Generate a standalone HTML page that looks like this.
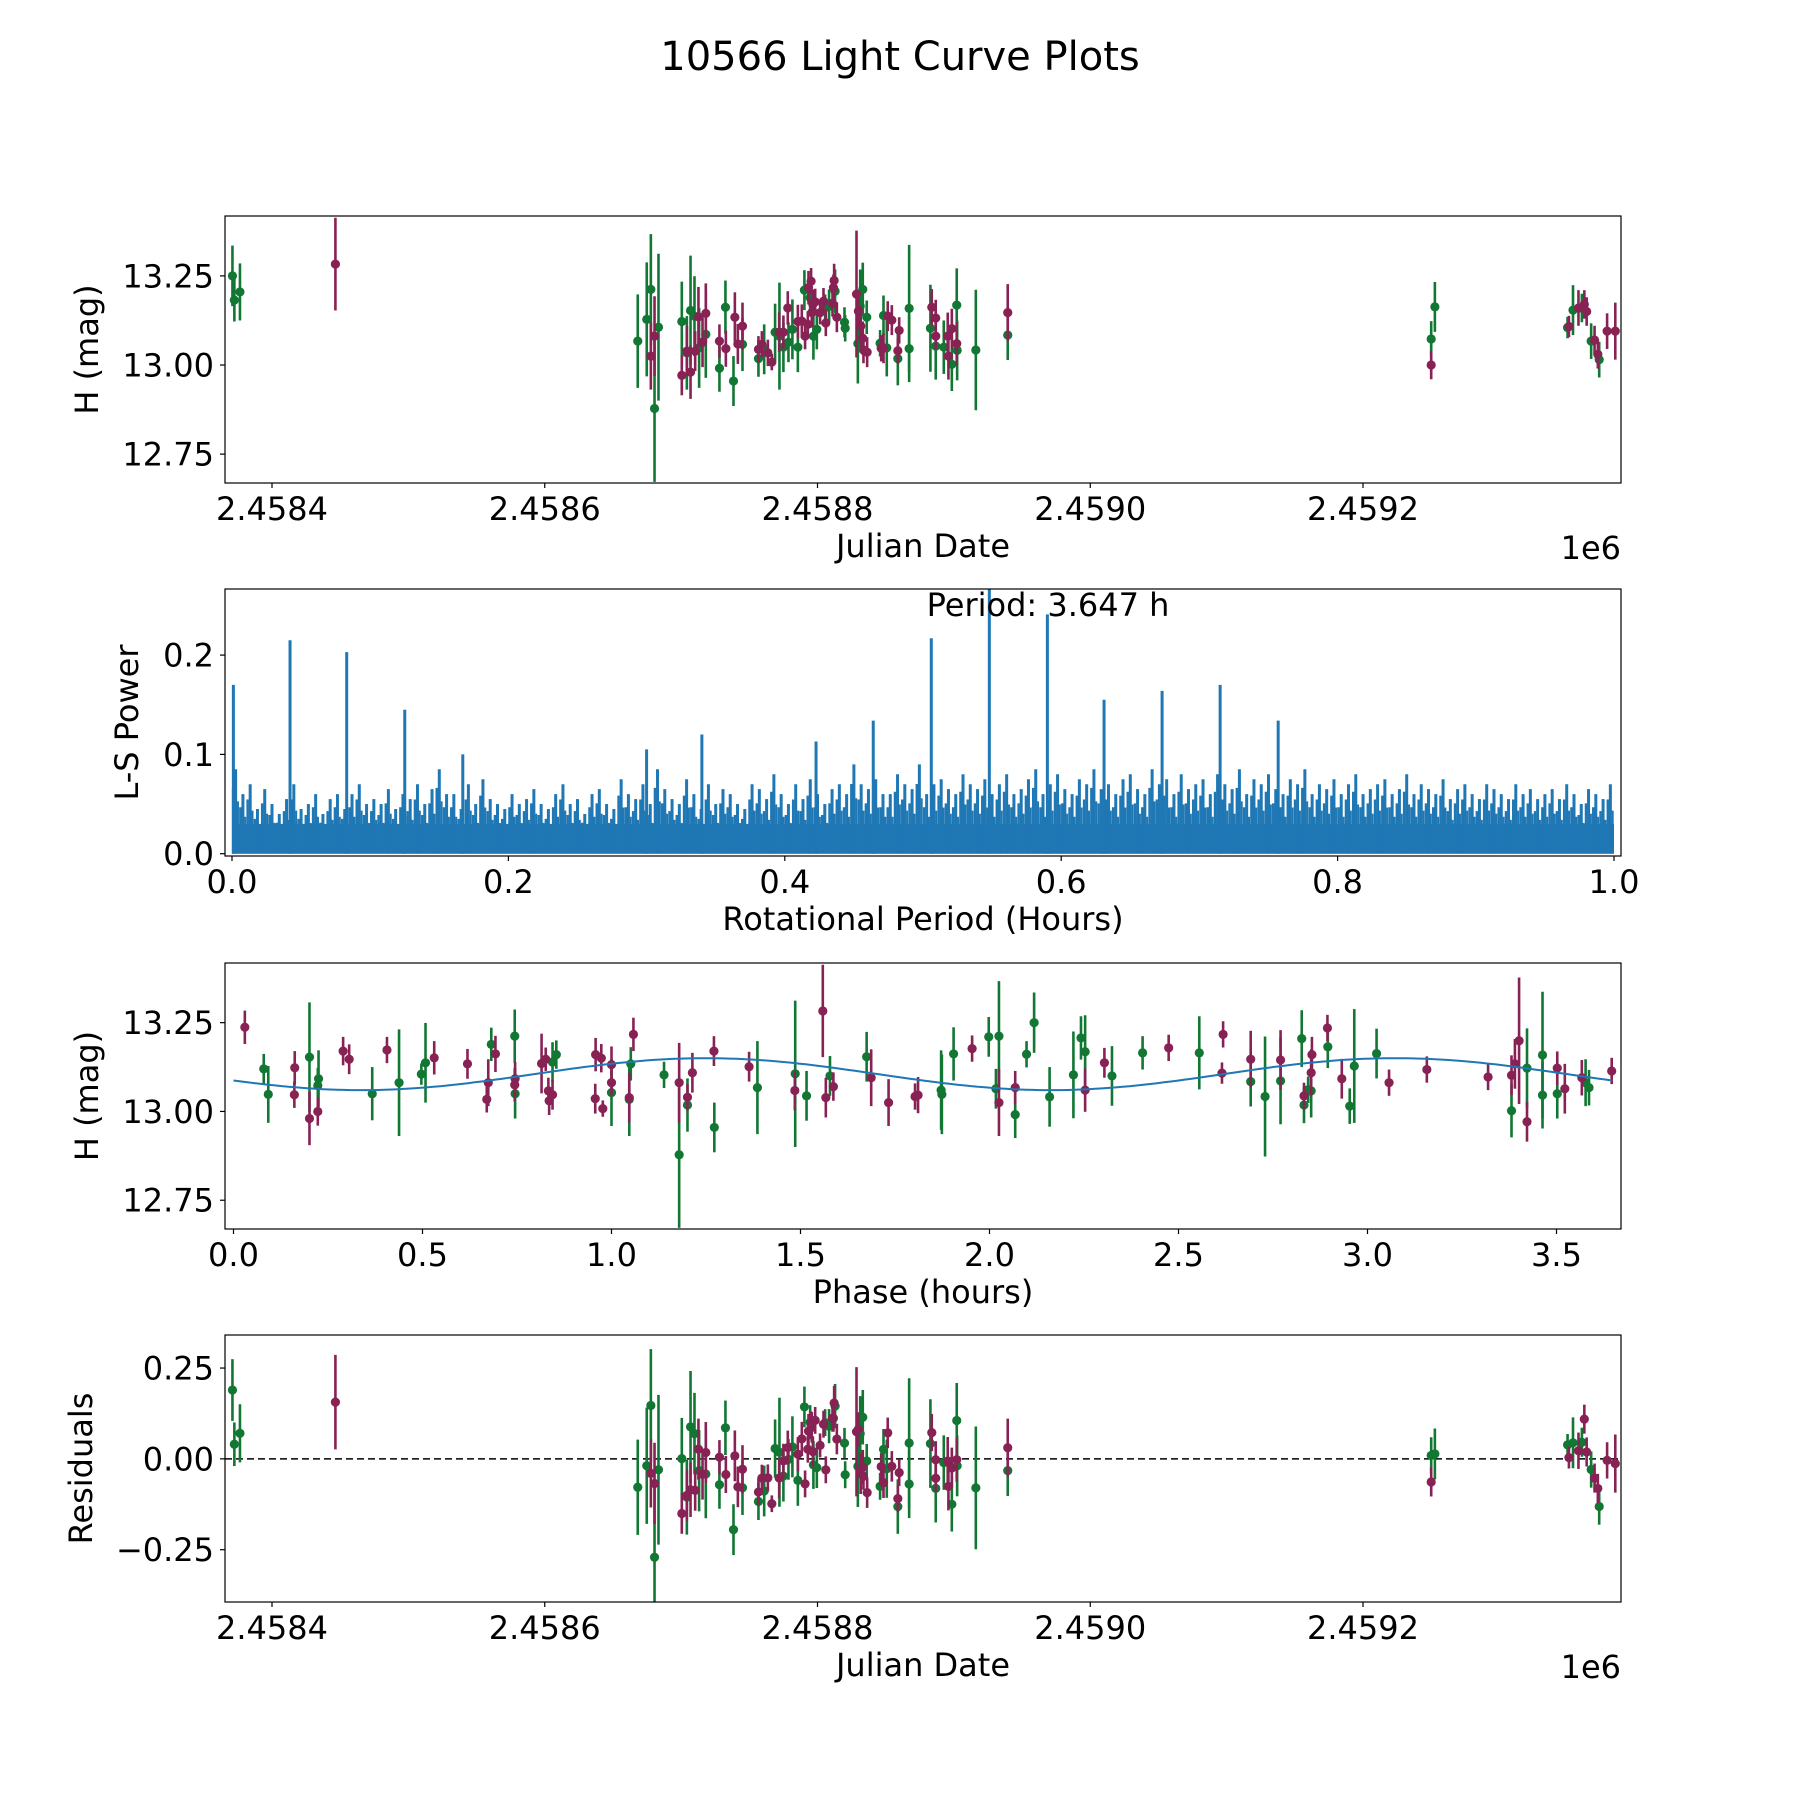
<!DOCTYPE html>
<html><head><meta charset="utf-8"><title>10566 Light Curve Plots</title>
<style>html,body{margin:0;padding:0;background:#fff}svg text{font-family:"DejaVu Sans","Liberation Sans",sans-serif;fill:#000}</style>
</head><body>
<svg id="fig" xmlns="http://www.w3.org/2000/svg" width="1800" height="1800" viewBox="0 0 1800 1800">
<rect width="1800" height="1800" fill="#fff"/>
<text x="900" y="70" font-size="40" text-anchor="middle">10566 Light Curve Plots</text>
<g id="p1"></g>
<g id="p2"></g>
<g id="p3"></g>
<g id="p4"></g>
</svg>
<script>
// ---------- data ----------
const jdGreen = [2458371,2458372.4,2458376.5,
2458668.2,2458674.8,2458677.8,2458680.5,2458683.4,2458700.5,2458704.2,2458706.9,2458709.8,2458713.2,2458718.1,2458728.1,2458732.5,2458738.4,2458745.0,2458756.7,2458760.9,2458768.9,2458772.1,2458775.0,2458778.7,2458781.6,2458785.6,2458790.4,2458794.6,2458797.0,2458799.5,2458805.6,2458808.5,2458812.9,2458819.8,2458820.3,2458829.6,2458831.3,2458833.2,2458836.1,2458845.9,2458848.4,2458850.8,2458858.9,2458867.2,2458867.2,2458882.8,2458886.7,2458892.6,2458898.5,2458902.1,2458902.4,2458916.1,2458939.5,
2459250,2459252.7,2459350,2459354,2459360.5,2459367.3,2459373.2];
const magGreen = [13.25,13.182,13.205,
13.067,13.128,13.212,12.878,13.106,13.122,13.034,13.153,13.137,13.048,13.086,12.991,13.162,12.955,13.058,13.018,13.044,13.092,13.081,13.05,13.064,13.1,13.05,13.21,13.189,13.081,13.1,13.161,13.165,13.207,13.12,13.103,13.06,13.165,13.212,13.134,13.061,13.139,13.048,13.018,13.159,13.046,13.103,13.053,13.05,13.002,13.168,13.041,13.042,13.084,
13.073,13.163,13.105,13.154,13.16,13.067,13.015];
const errGreen = [0.085,0.06,0.08,
0.131,0.16,0.155,0.206,0.206,0.112,0.103,0.154,0.112,0.112,0.122,0.066,0.075,0.07,0.075,0.051,0.07,0.08,0.15,0.07,0.056,0.084,0.07,0.056,0.047,0.066,0.056,0.037,0.047,0.061,0.042,0.037,0.112,0.103,0.075,0.047,0.037,0.056,0.08,0.075,0.178,0.094,0.122,0.094,0.075,0.075,0.103,0.084,0.169,0.07,
0.05,0.07,0.03,0.07,0.04,0.05,0.05];
const jdMaroon = [2458446.5,
2458677.8,2458680.5,2458700.5,2458704.2,2458706.9,2458710.3,2458712.7,2458715.7,2458718.1,2458728.1,2458732.8,2458739.4,2458741.6,2458745.0,2458756.7,2458759.2,2458763.6,2458766.5,2458771.9,2458775.0,2458778.2,2458785.6,2458788.5,2458790.9,2458792.9,2458793.4,2458795.3,2458795.8,2458796.6,2458798.3,2458801.9,2458804.4,2458806.1,2458811.0,2458811.7,2458812.2,2458814.2,2458828.6,2458830.0,2458831.7,2458833.2,2458833.7,2458836.4,2458846.7,2458848.4,2458851.5,2458854.5,2458858.9,2458859.9,2458883.8,2458886.7,2458886.7,2458895.5,2458896.0,2458898.5,2458902.1,2458939.5,
2459250,2459351,2459358,2459362.3,2459364,2459369.8,2459372.2,2459379,2459385];
const magMaroon = [13.283,
13.025,13.081,12.971,13.039,12.98,13.039,13.135,13.064,13.145,13.067,13.046,13.134,13.059,13.109,13.044,13.058,13.034,13.008,13.092,13.092,13.16,13.122,13.123,13.081,13.114,13.217,13.235,13.147,13.17,13.177,13.147,13.179,13.118,13.173,13.217,13.237,13.134,13.199,13.151,13.109,13.075,13.042,13.036,13.047,13.047,13.137,13.126,13.04,13.097,13.162,13.132,13.081,13.081,13.025,13.102,13.06,13.147,
13.0,13.108,13.16,13.17,13.15,13.07,13.03,13.095,13.095];
const errMaroon = [0.13,
0.094,0.112,0.056,0.07,0.075,0.056,0.084,0.07,0.084,0.047,0.051,0.07,0.056,0.066,0.037,0.037,0.037,0.023,0.056,0.047,0.047,0.047,0.047,0.037,0.037,0.047,0.037,0.042,0.042,0.037,0.033,0.037,0.037,0.037,0.037,0.047,0.042,0.178,0.047,0.056,0.047,0.037,0.042,0.037,0.042,0.042,0.042,0.037,0.037,0.051,0.051,0.037,0.066,0.066,0.056,0.061,0.08,
0.04,0.03,0.05,0.04,0.04,0.04,0.04,0.05,0.08];
const rotPeriodHours = 3.647;
const epochJD = 2458370.0;
const modelMean = 13.105;
const modelAmp = 0.045;
const modelPeakPhase = 1.25;
// periodogram
const lsNoise = [0.085,0.06,0.07,0.045,0.065,0.05,0.04,0.055,0.07,0.045,0.05,0.06,0.04,0.055,0.06,0.045,0.06,0.07,0.05,0.055,0.05,0.065,0.045,0.06,0.055,0.07,0.05,0.065,0.085,0.06,
0.06,0.045,0.07,0.05,0.075,0.055,0.05,0.045,0.06,0.05,0.055,0.065,0.05,0.045,0.06,0.07,0.05,0.055,0.04,0.06,0.065,0.05,0.045,0.075,0.06,0.055,0.07,0.05,0.085,0.065,
0.055,0.05,0.075,0.06,0.045,0.07,0.05,0.065,0.06,0.05,0.045,0.07,0.065,0.055,0.08,0.06,0.05,0.07,0.055,0.075,0.06,0.05,0.065,0.07,0.06,0.09,0.07,0.065,0.075,0.06,
0.06,0.08,0.07,0.065,0.09,0.06,0.07,0.075,0.065,0.06,0.08,0.07,0.065,0.075,0.06,0.07,0.08,0.06,0.065,0.075,0.085,0.06,0.07,0.08,0.065,0.06,0.075,0.07,0.085,0.065,
0.07,0.06,0.075,0.08,0.065,0.06,0.085,0.07,0.075,0.06,0.08,0.065,0.07,0.075,0.06,0.08,0.07,0.065,0.085,0.06,0.075,0.07,0.08,0.065,0.06,0.075,0.07,0.085,0.06,0.07,
0.065,0.075,0.06,0.07,0.08,0.06,0.065,0.07,0.075,0.06,0.065,0.08,0.06,0.07,0.065,0.06,0.075,0.055,0.065,0.07,0.06,0.055,0.07,0.065,0.06,0.055,0.07,0.06,0.065,0.055,
0.06,0.065,0.055,0.07,0.06,0.05,0.065,0.06,0.055,0.07];
const lsFloor = 0.03;
const peakPeriods = [0.001,0.042,0.083,0.125,0.167,0.30,0.34,0.4226,0.464,0.506,0.548,0.590,0.631,0.673,0.715,0.757];
const peakPowers = [0.17,0.215,0.203,0.145,0.10,0.105,0.12,0.113,0.134,0.217,0.266,0.241,0.155,0.164,0.17,0.134];
const periodLabel = "Period: 3.647 h";
const jdTicks = [2458400,2458600,2458800,2459000,2459200];
const jdTickLabels = ["2.4584","2.4586","2.4588","2.4590","2.4592"];
const magTicks = [13.25,13.00,12.75];
const magTickLabels = ["13.25","13.00","12.75"];
const lsXTicks = [0,0.2,0.4,0.6,0.8,1.0];
const lsXTickLabels = ["0.0","0.2","0.4","0.6","0.8","1.0"];
const lsYTicks = [0,0.1,0.2];
const lsYTickLabels = ["0.0","0.1","0.2"];
const phaseTicks = [0,0.5,1,1.5,2,2.5,3,3.5];
const phaseTickLabels = ["0.0","0.5","1.0","1.5","2.0","2.5","3.0","3.5"];
const resTicks = [0.25,0,-0.25];
const resTickLabels = ["0.25","0.00","\u22120.25"];

// ---------- helpers ----------
const NS="http://www.w3.org/2000/svg";
const GREEN="#117733", MAROON="#882255", BLUE="#1f77b4";
const FS=32;
function mk(tag, attrs, parent){const e=document.createElementNS(NS,tag);for(const k in attrs)e.setAttribute(k,attrs[k]);parent.appendChild(e);return e;}
function lin(d0,d1,p0,p1){return v=>p0+(v-d0)*(p1-p0)/(d1-d0);}
const L=225,R=1621;
function frame(g,top,bot,xs,ys,xt,xtl,yt,ytl,xlabel,ylabel,ylabelX,offset){
  xt.forEach((v,i)=>{const x=xs(v);
    const t=mk('line',{x1:x,x2:x,y1:bot,y2:bot+5,stroke:'#000','stroke-width':1.2},g);
    
    const tl=mk('text',{x:x,y:bot+37,'font-size':FS,'text-anchor':'middle'},g);tl.textContent=xtl[i];
    });
  yt.forEach((v,i)=>{const y=ys(v);
    const t=mk('line',{x1:L-5,x2:L,y1:y,y2:y,stroke:'#000','stroke-width':1.2},g);
    
    const tl=mk('text',{x:L-11,y:y+11.5,'font-size':FS,'text-anchor':'end'},g);tl.textContent=ytl[i];
    });
  const fr=mk('rect',{x:L,y:top,width:R-L,height:bot-top,fill:'none',stroke:'#000','stroke-width':1.2},g);
  
  const xl=mk('text',{x:(L+R)/2,y:bot+74,'font-size':FS,'text-anchor':'middle'},g);xl.textContent=xlabel;
  
  const cy=(top+bot)/2;
  const yl=mk('text',{x:ylabelX,y:cy,'font-size':FS,'text-anchor':'middle',transform:`rotate(-90 ${ylabelX} ${cy})`},g);yl.textContent=ylabel;
  
  if(offset){const o=mk('text',{x:R,y:bot+76,'font-size':FS,'text-anchor':'end'},g);o.textContent=offset;
    }
}
function clip(g,id,top,bot){const d=mk('clipPath',{id:id},g);mk('rect',{x:L,y:top,width:R-L,height:bot-top},d);}
function errPoints(g,xs,ys,xv,yv,ev,color,name){
  xv.forEach((x0,i)=>{const x=xs(x0),y=ys(yv[i]);
    const l=mk('line',{x1:x,x2:x,y1:ys(yv[i]+ev[i]),y2:ys(yv[i]-ev[i]),stroke:color,'stroke-width':2.6},g);
    
    const c=mk('circle',{cx:x,cy:y,r:4.6,fill:color},g);
    });
}
function model(ph){return modelMean+modelAmp*Math.cos(2*2*Math.PI*(ph-modelPeakPhase)/rotPeriodHours);}
function phaseOf(jd){const ph=((jd-epochJD)*24)%rotPeriodHours;return ph<0?ph+rotPeriodHours:ph;}

// ---------- panel 1 ----------
(function(){
  const g=document.getElementById('p1'),top=216,bot=483;
  const xs=lin(2458400,2459200,272,1363), ys=lin(13.418,12.669,top,bot);
  clip(g,'c1',top,bot);
  const d=mk('g',{'clip-path':'url(#c1)'},g);
  errPoints(d,xs,ys,jdGreen,magGreen,errGreen,GREEN,'green');
  errPoints(d,xs,ys,jdMaroon,magMaroon,errMaroon,MAROON,'maroon');
  frame(g,top,bot,xs,ys,jdTicks,jdTickLabels,magTicks,magTickLabels,'Julian Date','H (mag)',98,'1e6');
})();

// ---------- panel 2 ----------
(function(){
  const g=document.getElementById('p2'),top=589,bot=856;
  const xs=lin(0,1,232,1614), ys=lin(0,0.1,853.7,754.4);
  clip(g,'c2',top,bot);
  const d=mk('g',{'clip-path':'url(#c2)'},g);
  const fl=mk('rect',{x:xs(0),y:ys(lsFloor),width:xs(1)-xs(0),height:ys(0)-ys(lsFloor),fill:BLUE},d);
  
  const n=lsNoise.length;
  lsNoise.forEach((v,i)=>{const x=xs((i+0.5)/n);
    const l=mk('line',{x1:x,x2:x,y1:ys(0),y2:ys(v),stroke:BLUE,'stroke-width':3},d);
    
    const x2=xs((i+0.15)/n);
    const l2=mk('line',{x1:x2,x2:x2,y1:ys(0),y2:ys(v*0.78),stroke:BLUE,'stroke-width':2.5},d);
    
    const x3=xs((i+0.82)/n);
    const l3=mk('line',{x1:x3,x2:x3,y1:ys(0),y2:ys(v*0.62),stroke:BLUE,'stroke-width':2},d);
    });
  peakPeriods.forEach((p,i)=>{const x=xs(p);
    const l=mk('line',{x1:x,x2:x,y1:ys(0),y2:ys(peakPowers[i]),stroke:BLUE,'stroke-width':3},d);
    });
  frame(g,top,bot,xs,ys,lsXTicks,lsXTickLabels,lsYTicks,lsYTickLabels,'Rotational Period (Hours)','L-S Power',138,null);
  const t=mk('text',{x:1048,y:616,'font-size':FS,'text-anchor':'middle'},g);t.textContent=periodLabel;
  
})();

// ---------- panel 3 ----------
(function(){
  const g=document.getElementById('p3'),top=963,bot=1229;
  const xs=lin(0,1,233.5,611.5), ys=lin(13.418,12.669,top,bot);
  clip(g,'c3',top,bot);
  const d=mk('g',{'clip-path':'url(#c3)'},g);
  errPoints(d,xs,ys,jdGreen.map(phaseOf),magGreen,errGreen,GREEN,'green');
  errPoints(d,xs,ys,jdMaroon.map(phaseOf),magMaroon,errMaroon,MAROON,'maroon');
  let pts=[];for(let i=0;i<=200;i++){const ph=rotPeriodHours*i/200;pts.push(xs(ph).toFixed(1)+','+ys(model(ph)).toFixed(1));}
  const m=mk('polyline',{points:pts.join(' '),fill:'none',stroke:BLUE,'stroke-width':2},d);
  
  frame(g,top,bot,xs,ys,phaseTicks,phaseTickLabels,magTicks,magTickLabels,'Phase (hours)','H (mag)',98,null);
})();

// ---------- panel 4 ----------
(function(){
  const g=document.getElementById('p4'),top=1335,bot=1602;
  const xs=lin(2458400,2459200,272,1363), ys=lin(0.341,-0.394,top,bot);
  clip(g,'c4',top,bot);
  const d=mk('g',{'clip-path':'url(#c4)'},g);
  const z=mk('line',{x1:L,x2:R,y1:ys(0),y2:ys(0),stroke:'#000','stroke-width':1.6,'stroke-dasharray':'7,4'},d);
  
  const rg=magGreen.map((m,i)=>m-model(phaseOf(jdGreen[i])));
  const rm=magMaroon.map((m,i)=>m-model(phaseOf(jdMaroon[i])));
  errPoints(d,xs,ys,jdGreen,rg,errGreen,GREEN,'green-residual');
  errPoints(d,xs,ys,jdMaroon,rm,errMaroon,MAROON,'maroon-residual');
  frame(g,top,bot,xs,ys,jdTicks,jdTickLabels,resTicks,resTickLabels,'Julian Date','Residuals',92,'1e6');
})();
</script>
</body></html>
